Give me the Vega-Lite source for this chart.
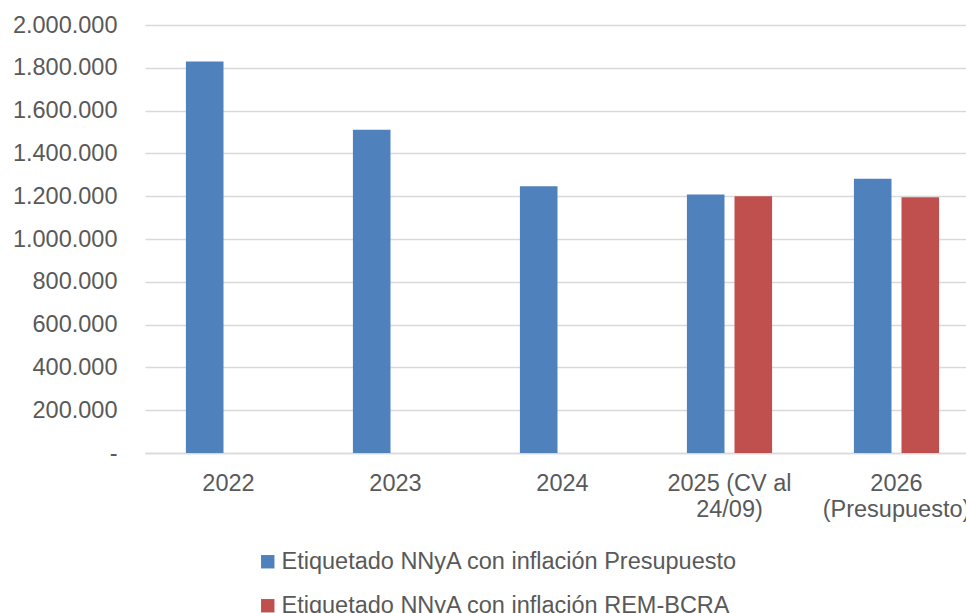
{
  "$schema": "https://vega.github.io/schema/vega-lite/v6.json",
  "autosize": "none",
  "padding": {"left": 145, "top": 25, "right": -14, "bottom": 160},
  "width": 835,
  "height": 428,
  "background": "white",
  "config": {
    "locale": {"number": {"decimal": ",", "thousands": ".", "grouping": [3], "currency": ["$", ""]}},
    "font": "Liberation Sans",
    "view": {"stroke": null}
  },
  "data": {
    "values": [
      {"year": "2022", "series": "Etiquetado NNyA con inflación Presupuesto", "value": 1830000},
      {"year": "2023", "series": "Etiquetado NNyA con inflación Presupuesto", "value": 1510000},
      {"year": "2024", "series": "Etiquetado NNyA con inflación Presupuesto", "value": 1247000},
      {"year": "2025 (CV al 24/09)", "series": "Etiquetado NNyA con inflación Presupuesto", "value": 1208000},
      {"year": "2025 (CV al 24/09)", "series": "Etiquetado NNyA con inflación REM-BCRA", "value": 1200000},
      {"year": "2026 (Presupuesto)", "series": "Etiquetado NNyA con inflación Presupuesto", "value": 1281000},
      {"year": "2026 (Presupuesto)", "series": "Etiquetado NNyA con inflación REM-BCRA", "value": 1195000}
    ]
  },
  "mark": {"type": "bar"},
  "encoding": {
    "x": {
      "field": "year",
      "type": "nominal",
      "sort": null,
      "scale": {"paddingInner": 0.49, "paddingOuter": 0.245},
      "axis": {
        "title": null,
        "labelAngle": 0,
        "labelFontSize": 23.5,
        "labelColor": "#595959",
        "labelPadding": 18,
        "labelLineHeight": 26,
        "labelLimit": 0,
        "labelOverlap": false,
        "ticks": false,
        "domainColor": "#d9d9d9",
        "domainWidth": 1.5,
        "labelExpr": "datum.value == '2025 (CV al 24/09)' ? ['2025 (CV al', '24/09)'] : datum.value == '2026 (Presupuesto)' ? ['2026', '(Presupuesto)'] : datum.value"
      }
    },
    "xOffset": {
      "field": "series",
      "type": "nominal",
      "scale": {"paddingInner": 0.21, "domain": ["Etiquetado NNyA con inflación Presupuesto", "Etiquetado NNyA con inflación REM-BCRA"]}
    },
    "y": {
      "field": "value",
      "type": "quantitative",
      "scale": {"domain": [0, 2000000], "nice": false},
      "axis": {
        "title": null,
        "values": [0, 200000, 400000, 600000, 800000, 1000000, 1200000, 1400000, 1600000, 1800000, 2000000],
        "format": ",.0f",
        "labelExpr": "datum.value == 0 ? '-' : datum.label",
        "labelFontSize": 23.5,
        "labelColor": "#595959",
        "labelPadding": 28,
        "labelOverlap": false,
        "ticks": false,
        "domain": false,
        "gridColor": "#d9d9d9",
        "gridWidth": 1.5
      }
    },
    "color": {
      "field": "series",
      "type": "nominal",
      "scale": {
        "domain": ["Etiquetado NNyA con inflación Presupuesto", "Etiquetado NNyA con inflación REM-BCRA"],
        "range": ["#4F81BD", "#C0504D"]
      },
      "legend": {
        "title": null,
        "orient": "none",
        "legendX": 111,
        "legendY": 525,
        "direction": "vertical",
        "symbolType": "square",
        "symbolSize": 180,
        "symbolStrokeWidth": 0,
        "labelFontSize": 23.5,
        "labelColor": "#595959",
        "labelLimit": 0,
        "labelOffset": 2,
        "rowPadding": 19
      }
    }
  }
}
